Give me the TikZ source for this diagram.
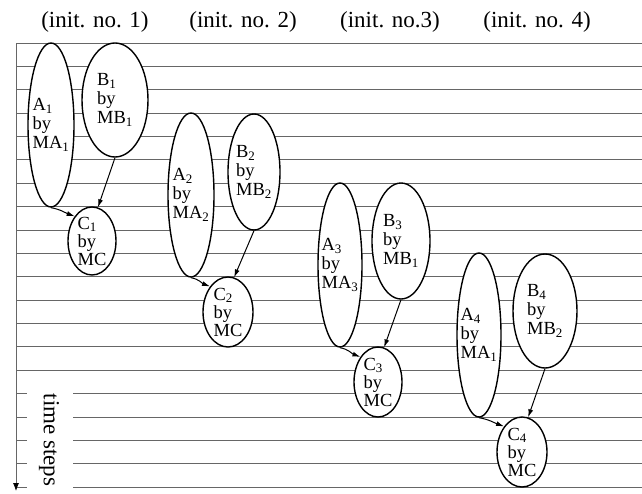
\documentclass[tikz,border=0pt]{standalone}
\usepackage{fontspec}
\setmainfont{Liberation Serif}
\usetikzlibrary{shapes.geometric,arrows.meta}

\begin{document}
\begin{tikzpicture}[x=1pt,y=-1pt,>={Latex[length=8pt,width=5pt]},
  grid line/.style={black!60,line width=0.8pt},
  main node/.style={ellipse,draw,line width=1.4pt,fill=white,inner sep=0pt},
  node text/.style={font=\fontsize{18.5}{19}\selectfont,align=left,inner sep=0pt},
  c text/.style={font=\fontsize{18.5}{18}\selectfont,align=left,inner sep=0pt},
  head/.style={font=\fontsize{23}{26}\selectfont,inner sep=0pt}]
  \useasboundingbox (0,0) rectangle (642,493);

  % time grid
  \foreach \k in {0,...,14}
    \draw[grid line] (16,43+23.37*\k) -- (642,43+23.37*\k);
  \foreach \k in {15,...,19} {
    \draw[grid line] (16,43+23.37*\k) -- (27,43+23.37*\k);
    \draw[grid line] (73,43+23.37*\k) -- (642,43+23.37*\k);
  }
  \coordinate (t0) at (16,43);
  \coordinate (t1) at (16,491);
  \draw[grid line,->,>={Latex[length=8pt,width=6pt,black]}] (t0) -- (t1);
  \node[head,rotate=-90] (steps) at (49,440) {time steps};

  % headings
  \node[head,anchor=base] (init1) at (95,27) {(init. no. 1)};
  \node[head,anchor=base] (init2) at (243,27) {(init. no. 2)};
  \node[head,anchor=base] (init3) at (390,27) {(init. no.3)};
  \node[head,anchor=base] (init4) at (537,27) {(init. no. 4)};

  % init. no. 1
  \node[main node,minimum width=46,minimum height=164,
    label={[node text]center:A\textsubscript{1}\\by\\MA\textsubscript{1}}] (A1) at (51,125) {};
  \node[main node,minimum width=66,minimum height=114,
    label={[node text]center:B\textsubscript{1}\\by\\MB\textsubscript{1}}] (B1) at (115,100) {};
  \node[main node,minimum width=48,minimum height=68,
    label={[c text]center:C\textsubscript{1}\\by\\MC}] (C1) at (92,241) {};

  % init. no. 2
  \node[main node,minimum width=46,minimum height=164,
    label={[node text]center:A\textsubscript{2}\\by\\MA\textsubscript{2}}] (A2) at (191,195) {};
  \node[main node,minimum width=52,minimum height=116,
    label={[node text]center:B\textsubscript{2}\\by\\MB\textsubscript{2}}] (B2) at (254,172) {};
  \node[main node,minimum width=50,minimum height=70,
    label={[c text]center:C\textsubscript{2}\\by\\MC}] (C2) at (228,312) {};

  % init. no. 3
  \node[main node,minimum width=44,minimum height=164,
    label={[node text]center:A\textsubscript{3}\\by\\MA\textsubscript{3}}] (A3) at (340,265) {};
  \node[main node,minimum width=58,minimum height=116,
    label={[node text]center:B\textsubscript{3}\\by\\MB\textsubscript{1}}] (B3) at (401,241) {};
  \node[main node,minimum width=48,minimum height=70,
    label={[c text]center:C\textsubscript{3}\\by\\MC}] (C3) at (378,382) {};

  % init. no. 4
  \node[main node,minimum width=44,minimum height=164,
    label={[node text]center:A\textsubscript{4}\\by\\MA\textsubscript{1}}] (A4) at (479,335) {};
  \node[main node,minimum width=64,minimum height=114,
    label={[node text]center:B\textsubscript{4}\\by\\MB\textsubscript{2}}] (B4) at (545,311) {};
  \node[main node,minimum width=50,minimum height=70,
    label={[c text]center:C\textsubscript{4}\\by\\MC}] (C4) at (522,452) {};

  \path[->,line width=1pt]
    (A1.south) edge[out=-10,in=160] (C1.125)
    (B1.south) edge (C1.80)
    (A2.south) edge[out=-10,in=160] (C2.125)
    (B2.south) edge (C2.80)
    (A3.south) edge[out=-10,in=160] (C3.125)
    (B3.south) edge (C3.80)
    (A4.south) edge[out=-10,in=160] (C4.125)
    (B4.south) edge (C4.80);
\end{tikzpicture}
\end{document}
